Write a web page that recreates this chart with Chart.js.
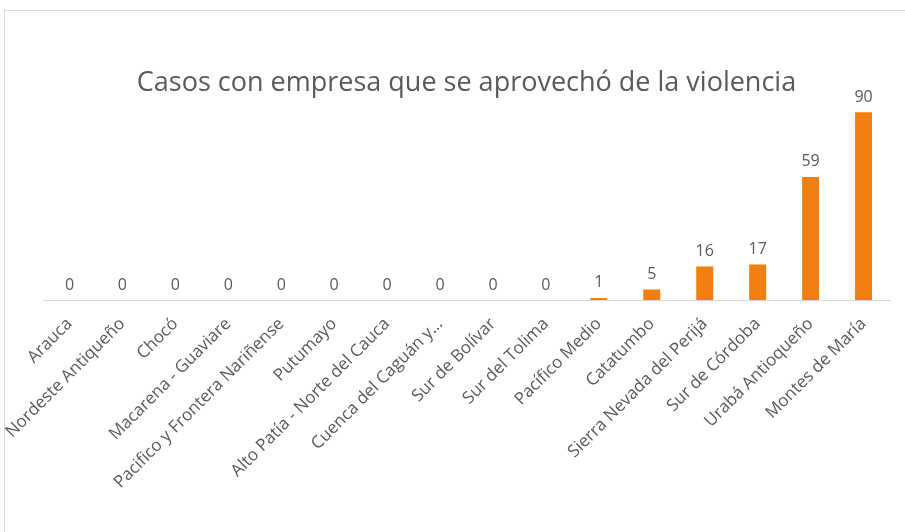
<!DOCTYPE html>
<html>
<head>
<meta charset="utf-8">
<script src="https://cdn.jsdelivr.net/npm/chart.js@4"></script>
<style>
  html, body { margin: 0; padding: 0; background: #fff; }
  #wrap { position: relative; width: 905px; height: 532px; overflow: hidden; }
  #frame { position: absolute; left: 4px; top: 10px; width: 1000px; height: 600px; border: 1px solid #d9d9d9; }
  canvas { position: absolute; left: 0; top: 0; }
</style>
</head>
<body>
<div id="wrap">
  <div id="frame"></div>
  <canvas id="chart" width="905" height="532"></canvas>
</div>
<script>
const categories = [
  'Arauca', 'Nordeste Antiqueño', 'Chocó', 'Macarena - Guaviare',
  'Pacifico y Frontera Nariñense', 'Putumayo', 'Alto Patía - Norte del Cauca',
  'Cuenca del Caguán y…', 'Sur de Bolívar', 'Sur del Tolima', 'Pacífico Medio',
  'Catatumbo', 'Sierra Nevada del Perijá', 'Sur de Córdoba', 'Urabá Antioqueño',
  'Montes de María'
];
const casos = [0, 0, 0, 0, 0, 0, 0, 0, 0, 0, 1, 5, 16, 17, 59, 90];

const textColor = '#595959';
const barColor = '#EF800F';
const fontFamily = '"Open Sans", sans-serif';

// draws the value above each bar
const valueLabels = {
  id: 'valueLabels',
  afterDatasetsDraw(chart) {
    const ctx = chart.ctx;
    const meta = chart.getDatasetMeta(0);
    ctx.save();
    ctx.font = '16px ' + fontFamily;
    ctx.fillStyle = textColor;
    ctx.textAlign = 'center';
    ctx.textBaseline = 'bottom';
    meta.data.forEach((bar, i) => {
      ctx.fillText(String(casos[i]), bar.x, bar.y - 7);
    });
    ctx.restore();
  }
};

new Chart(document.getElementById('chart'), {
  type: 'bar',
  data: {
    labels: categories,
    datasets: [{
      data: casos,
      backgroundColor: barColor,
      categoryPercentage: 1,
      barPercentage: 0.32
    }]
  },
  options: {
    responsive: false,
    animation: false,
    layout: { padding: { left: 43, right: 15, top: 0, bottom: 0 } },
    plugins: {
      legend: { display: false },
      tooltip: { enabled: false },
      title: {
        display: true,
        text: 'Casos con empresa que se aprovechó de la violencia',
        color: textColor,
        font: { family: fontFamily, size: 27, weight: 'normal' },
        padding: { top: 67, bottom: -8 }
      }
    },
    scales: {
      x: {
        grid: { display: false },
        border: { color: '#d9d9d9', width: 1 },
        ticks: {
          color: textColor,
          font: { family: fontFamily, size: 17 },
          minRotation: 45,
          maxRotation: 45,
          autoSkip: false,
          padding: 6
        },
        afterFit(scale) { scale.height = 232; }
      },
      y: {
        display: false,
        min: 0,
        max: 100
      }
    }
  },
  plugins: [valueLabels]
});
</script>
</body>
</html>
